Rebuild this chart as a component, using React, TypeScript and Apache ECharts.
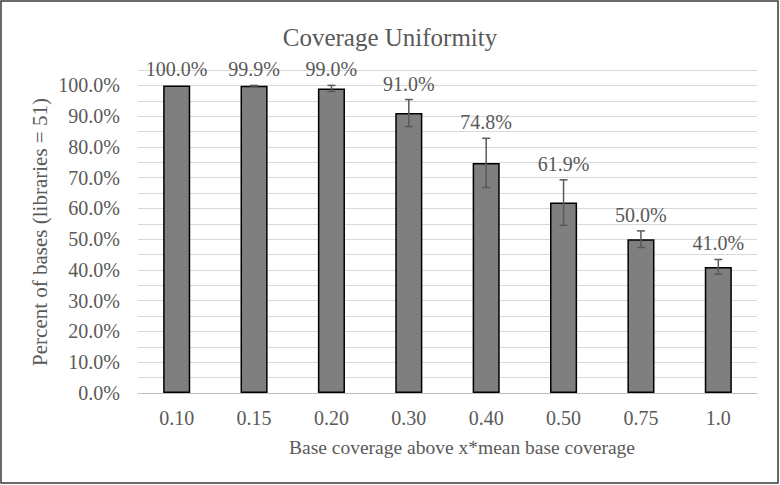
import React, { useEffect, useRef } from "react";
import * as echarts from "echarts";

const categories = ["0.10", "0.15", "0.20", "0.30", "0.40", "0.50", "0.75", "1.0"];
const values = [100.0, 99.9, 99.0, 91.0, 74.8, 61.9, 50.0, 41.0];
const errors = [0.0, 0.1, 1.0, 4.4, 8.0, 7.4, 2.7, 2.4];
const titleText = "Coverage Uniformity";
const yName = "Percent of bases (libraries = 51)";
const xName = "Base coverage above x*mean base coverage";

const FONT = "'Liberation Serif', 'Times New Roman', serif";
const TXT = "#595959";

export default function App() {
  const ref = useRef<HTMLDivElement>(null);
  useEffect(() => {
    if (!ref.current) return;
    const chart = echarts.init(ref.current, null, { renderer: "svg" });
    const errData = values.map((v, i) => [i, v - errors[i], v + errors[i], v]);
    chart.setOption({
      animation: false,
      backgroundColor: "#ffffff",
      title: {
        text: titleText,
        left: "center",
        top: 20,
        textStyle: { fontFamily: FONT, fontSize: 25, fontWeight: "normal", color: TXT },
      },
      grid: { left: 138, right: 23, top: 70, bottom: 92 },
      xAxis: {
        type: "category",
        data: categories,
        axisLine: { show: true, lineStyle: { color: "#bfbfbf", width: 1 } },
        axisTick: { show: false },
        axisLabel: { fontFamily: FONT, fontSize: 20, color: TXT, margin: 15 },
      },
      yAxis: {
        type: "value",
        min: 0,
        max: 105,
        interval: 5,
        axisLine: { show: false },
        axisTick: { show: false },
        splitLine: { show: true, lineStyle: { color: "#d9d9d9", width: 1 } },
        axisLabel: {
          fontFamily: FONT,
          fontSize: 20,
          color: TXT,
          margin: 18,
          formatter: (v: number) => (Math.round(v) % 10 === 0 && v <= 100 ? v.toFixed(1) + "%" : ""),
        },
      },
      graphic: [
        {
          type: "rect",
          shape: { x: 1, y: 1, width: 777, height: 482 },
          style: { fill: "none", stroke: "#3a3a3a", lineWidth: 1.5 },
          z: 100,
        },
        {
          type: "text",
          x: 40,
          y: 232,
          rotation: Math.PI / 2,
          style: {
            text: yName,
            fontFamily: FONT,
            fontSize: 21,
            fill: TXT,
            align: "center",
            verticalAlign: "middle",
          },
        },
        {
          type: "text",
          x: 462,
          y: 447,
          style: {
            text: xName,
            fontFamily: FONT,
            fontSize: 19.5,
            fill: TXT,
            align: "center",
            verticalAlign: "middle",
          },
        },
      ],
      series: [
        {
          type: "bar",
          data: values,
          barWidth: "35%",
          itemStyle: { color: "#7f7f7f", borderColor: "#000000", borderWidth: 1.5 },
          z: 2,
        },
        {
          type: "custom",
          data: errData,
          encode: { x: 0, y: [1, 2] },
          z: 3,
          renderItem: (params: any, api: any) => {
            const idx = api.value(0);
            const lo = api.coord([idx, api.value(1)]);
            const hi = api.coord([idx, api.value(2)]);
            const val = api.value(3);
            const cap = 4;
            const st = { stroke: "#595959", lineWidth: 1.5 };
            const children: any[] = [];
            if (Math.abs(lo[1] - hi[1]) > 0.5) {
              children.push(
                { type: "line", shape: { x1: hi[0], y1: hi[1], x2: lo[0], y2: lo[1] }, style: st },
                { type: "line", shape: { x1: hi[0] - cap, y1: hi[1], x2: hi[0] + cap, y2: hi[1] }, style: st },
                { type: "line", shape: { x1: lo[0] - cap, y1: lo[1], x2: lo[0] + cap, y2: lo[1] }, style: st }
              );
            }
            children.push({
              type: "text",
              x: hi[0],
              y: hi[1] - 6,
              style: {
                text: Number(val).toFixed(1) + "%",
                fontFamily: FONT,
                fontSize: 20,
                fill: TXT,
                align: "center",
                verticalAlign: "bottom",
              },
            });
            return { type: "group", children };
          },
        },
      ],
    });
    return () => chart.dispose();
  }, []);
  return (
    <div
      ref={ref}
      style={{ position: "fixed", left: 0, top: 0, width: 780, height: 485 }}
    />
  );
}
